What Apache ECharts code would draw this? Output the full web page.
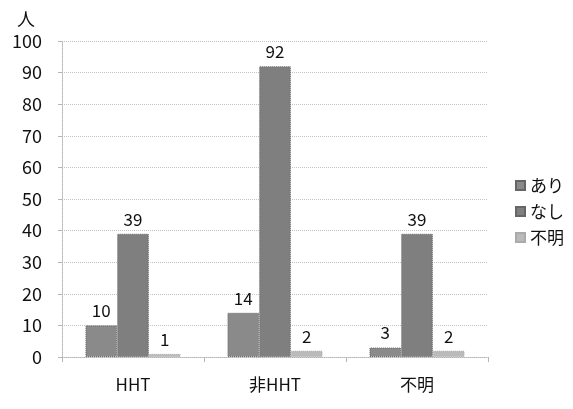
<!DOCTYPE html>
<html>
<head>
<meta charset="utf-8">
<script src="https://cdn.jsdelivr.net/npm/echarts@6/dist/echarts.min.js"></script>
<style>
html,body{margin:0;padding:0;background:#fff;}
#chart{width:573px;height:409px;}
</style>
</head>
<body>
<div id="chart"></div>
<script>
// Categories and per-group counts
const categories = ['HHT', '非HHT', '不明'];
const seriesNames = ['あり', 'なし', '不明'];
const ariValues = [10, 14, 3];
const nashiValues = [39, 92, 39];
const fumeiValues = [1, 2, 2];
const yTicks = [0, 10, 20, 30, 40, 50, 60, 70, 80, 90, 100];

const colors = ['#8a8a8a', '#7f7f7f', '#bababa'];
const font = '"Noto Sans CJK JP", "Open Sans", sans-serif';

const chart = echarts.init(document.getElementById('chart'));
const values = [ariValues, nashiValues, fumeiValues];

chart.setOption({
  animation: false,
  textStyle: { fontFamily: font },
  grid: { left: 62, right: 85, top: 41, bottom: 52, containLabel: false },
  legend: {
    orient: 'vertical',
    right: 4,
    top: 172,
    itemWidth: 9,
    itemHeight: 9,
    itemGap: 9,
    icon: 'rect',
    data: seriesNames,
    textStyle: { fontSize: 17, color: '#111', fontFamily: font }
  },
  xAxis: {
    type: 'category',
    data: categories,
    axisLine: { lineStyle: { color: '#b5b5b5', type: 'dotted' } },
    axisTick: { show: true, alignWithLabel: false, lineStyle: { color: '#b5b5b5' } },
    axisLabel: { fontSize: 17, color: '#111', margin: 19, fontFamily: font }
  },
  yAxis: {
    type: 'value',
    min: yTicks[0],
    max: yTicks[yTicks.length - 1],
    interval: 10,
    name: '人',
    nameLocation: 'end',
    nameGap: 13,
    nameTextStyle: { fontSize: 18, color: '#111', align: 'right', padding: [0, 27, 0, 0], fontFamily: font },
    axisLine: { show: true, lineStyle: { color: '#b5b5b5', type: 'dotted' } },
    axisTick: { show: true, length: 4, inside: false, lineStyle: { color: '#b5b5b5' } },
    axisLabel: { fontSize: 18, color: '#111', margin: 20, fontFamily: font },
    splitLine: { lineStyle: { color: '#c4c4c4', type: 'dotted' } }
  },
  series: seriesNames.map((name, i) => ({
    name: name,
    type: 'bar',
    data: values[i],
    barGap: '0%',
    barCategoryGap: '33%',
    itemStyle: { color: colors[i], borderColor: i === 2 ? '#aaaaaa' : '#666666', borderWidth: 1, borderType: 'dotted' },
    label: {
      show: true,
      position: 'top',
      distance: 6,
      fontSize: 17,
      color: '#111',
      fontFamily: font
    }
  }))
});
</script>
</body>
</html>
